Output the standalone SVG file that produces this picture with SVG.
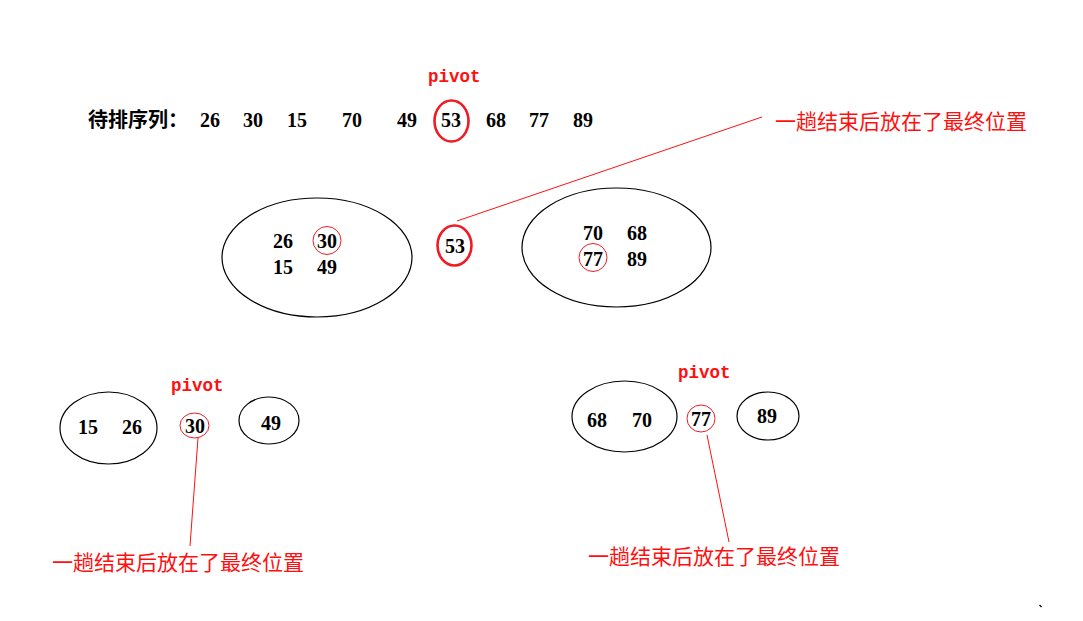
<svg xmlns="http://www.w3.org/2000/svg" width="1083" height="621" viewBox="0 0 1083 621">
<style>
.num{font-family:"Liberation Serif","Times New Roman",serif;font-weight:bold;font-size:20px;fill:#000}
.cn{font-family:"Noto Sans CJK SC",sans-serif;font-weight:bold;font-size:20px;fill:#000}
.note{font-family:"Noto Sans CJK SC",sans-serif;font-size:21px;fill:#ff1010}
.piv{font-family:"Liberation Mono","Courier New",monospace;font-weight:bold;font-size:17.5px;fill:#ff1010}
.grp{fill:none;stroke:#000;stroke-width:1.2}
.pc{fill:none;stroke:#ee1c24;stroke-width:2.6}
.pcs{fill:none;stroke:#ee1c24;stroke-width:1}
.ln{stroke:#ff1010;stroke-width:1;fill:none}
</style>
<rect width="1083" height="621" fill="#fff"/>

<g id="top-row">
<text class="cn" x="88" y="127">待排序列：</text>
<text class="num" x="200" y="127">26</text>
<text class="num" x="243" y="127">30</text>
<text class="num" x="287" y="127">15</text>
<text class="num" x="342" y="127">70</text>
<text class="num" x="397" y="127">49</text>
<text class="num" x="441" y="127">53</text>
<text class="num" x="486" y="127">68</text>
<text class="num" x="529" y="127">77</text>
<text class="num" x="573" y="127">89</text>
</g>
<g id="top-pivot">
<text class="piv" x="428" y="82">pivot</text>
<ellipse class="pc" cx="451.5" cy="121" rx="17" ry="20.5"/>
</g>
<g id="note-top"><text class="note" x="775" y="128.5">一趟结束后放在了最终位置</text></g>

<g id="left-group">
<ellipse class="grp" cx="317" cy="257.5" rx="95" ry="59.5"/>
<text class="num" x="273" y="248">26</text>
<circle class="pcs" cx="327" cy="240.5" r="14"/>
<text class="num" x="317" y="248">30</text>
<text class="num" x="273" y="274">15</text>
<text class="num" x="317" y="274">49</text>
</g>
<g id="mid-pivot">
<ellipse class="pc" cx="454.5" cy="245.5" rx="17" ry="20"/>
<text class="num" x="445" y="252.5">53</text>
</g>
<g id="right-group">
<ellipse class="grp" cx="616.5" cy="247.5" rx="94.5" ry="59.5"/>
<text class="num" x="583" y="240">70</text>
<text class="num" x="627" y="240">68</text>
<circle class="pcs" cx="593" cy="257.5" r="14"/>
<text class="num" x="583" y="266">77</text>
<text class="num" x="627" y="266">89</text>
</g>

<g id="bl-group">
<ellipse class="grp" cx="108.5" cy="428" rx="48.5" ry="36"/>
<text class="num" x="78" y="434">15</text>
<text class="num" x="122" y="434">26</text>
</g>
<g id="bl-pivot">
<text class="piv" x="171" y="391">pivot</text>
<ellipse class="pcs" cx="194.5" cy="425.5" rx="14.5" ry="12.5"/>
<text class="num" x="185" y="433">30</text>
</g>
<g id="bl-49">
<ellipse class="grp" cx="269" cy="420.5" rx="30" ry="23.5"/>
<text class="num" x="261" y="430">49</text>
</g>
<g id="note-bl"><text class="note" x="52" y="570">一趟结束后放在了最终位置</text></g>

<g id="br-group">
<ellipse class="grp" cx="624.5" cy="416.5" rx="52.5" ry="35.5"/>
<text class="num" x="587" y="427">68</text>
<text class="num" x="632" y="427">70</text>
</g>
<g id="br-pivot">
<text class="piv" x="678" y="378">pivot</text>
<ellipse class="pcs" cx="701" cy="418.5" rx="14" ry="13.5"/>
<text class="num" x="691" y="426">77</text>
</g>
<g id="br-89">
<ellipse class="grp" cx="768" cy="416" rx="31" ry="24"/>
<text class="num" x="757" y="423">89</text>
</g>
<g id="note-br"><text class="note" x="588" y="564">一趟结束后放在了最终位置</text></g>

<g id="connectors">
<line class="ln" x1="457" y1="221" x2="762" y2="117"/>
<line class="ln" x1="198" y1="438" x2="190" y2="546"/>
<line class="ln" x1="707" y1="435" x2="729" y2="542"/>
</g>
<path d="M1039.5 605 L1041.5 607" stroke="#000" stroke-width="1.2"/>
</svg>
